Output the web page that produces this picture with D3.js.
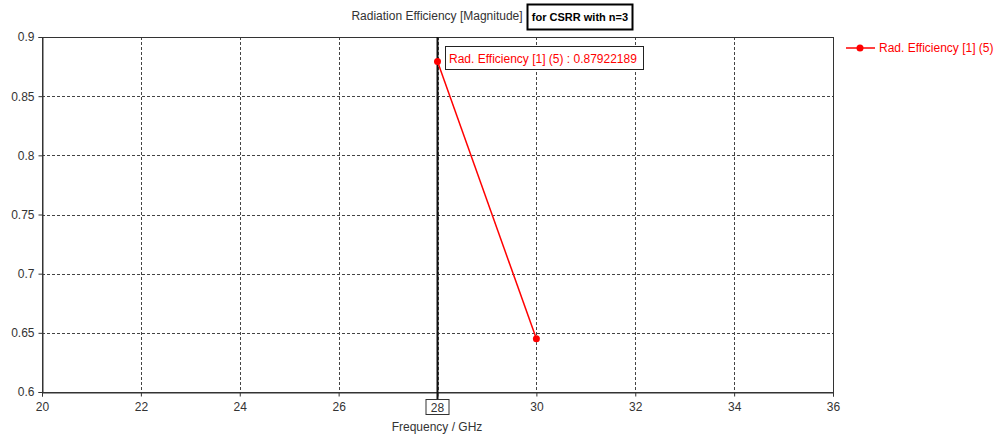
<!DOCTYPE html>
<html>
<head>
<meta charset="utf-8">
<script src="https://cdn.jsdelivr.net/npm/d3@7"></script>
<style>
  body { margin: 0; background: #fff; }
  svg { display: block; font-family: "Liberation Sans", Arial, sans-serif; }
</style>
</head>
<body>
<svg id="chart" width="1001" height="439"></svg>
<script>
// Radiation efficiency samples (frequency in GHz, efficiency magnitude)
const frequencies = [28, 30];
const efficiency = [0.87922189, 0.6449];
const xTicks = [20, 22, 24, 26, 28, 30, 32, 34, 36];
const yTicks = [0.6, 0.65, 0.7, 0.75, 0.8, 0.85, 0.9];
const seriesName = "Rad. Efficiency [1] (5)";
const markerFreq = 28;

const svg = d3.select("#chart");
const plotL = 42, plotR = 833, plotT = 37, plotB = 392;
const x = d3.scaleLinear().domain([20, 36]).range([plotL, plotR]);
const y = d3.scaleLinear().domain([0.6, 0.9]).range([plotB, plotT]);
const red = "#ff0000";
const fs = "12px";

// dashed grid
const grid = svg.append("g");
grid.selectAll(".gx").data(xTicks.slice(1, -1)).join("line")
  .attr("x1", d => Math.round(x(d)) + 0.5).attr("x2", d => Math.round(x(d)) + 0.5)
  .attr("y1", plotT).attr("y2", plotB)
  .attr("stroke", "#444").attr("stroke-dasharray", "3,2").attr("stroke-width", 1);
grid.selectAll(".gy").data(yTicks.slice(1, -1)).join("line")
  .attr("y1", d => Math.round(y(d)) + 0.5).attr("y2", d => Math.round(y(d)) + 0.5)
  .attr("x1", plotL).attr("x2", plotR)
  .attr("stroke", "#444").attr("stroke-dasharray", "3,2").attr("stroke-width", 1);

// axes
const xAxis = svg.append("g").attr("transform", `translate(0,${plotB + 0.5})`)
  .call(d3.axisBottom(x).tickValues(xTicks).tickSize(4).tickPadding(6).tickFormat(d3.format("d")));
const yAxis = svg.append("g").attr("transform", `translate(${plotL + 0.5},0)`)
  .call(d3.axisLeft(y).tickValues(yTicks).tickSize(4).tickPadding(4).tickFormat(d => String(+d.toFixed(2))));
[xAxis, yAxis].forEach(a => {
  a.selectAll("text").attr("font-size", fs).attr("fill", "#333").attr("font-family", "Liberation Sans, Arial, sans-serif");
  a.selectAll("line, path").attr("stroke", "#333");
});

// frame
svg.append("rect").attr("x", plotL + 0.5).attr("y", plotT + 0.5)
  .attr("width", plotR - plotL).attr("height", plotB - plotT)
  .attr("fill", "none").attr("stroke", "#333");

// marker line at 28 GHz
const mx = x(markerFreq);
svg.append("line").attr("x1", mx).attr("x2", mx)
  .attr("y1", plotT).attr("y2", plotB + 7).attr("stroke", "#111").attr("stroke-width", 2);

// marker value box on x axis
svg.append("rect").attr("x", mx - 11.5).attr("y", plotB + 7.5).attr("width", 23).attr("height", 15)
  .attr("fill", "#fff").attr("stroke", "#333");
svg.append("text").attr("x", mx).attr("y", plotB + 19.5).attr("text-anchor", "middle")
  .attr("font-size", fs).attr("fill", "#333").text(markerFreq);

// series
const pts = frequencies.map((f, i) => [f, efficiency[i]]);
svg.append("path").datum(pts)
  .attr("d", d3.line().x(d => x(d[0])).y(d => y(d[1])))
  .attr("fill", "none").attr("stroke", red).attr("stroke-width", 1.5);
svg.selectAll(".pt").data(pts).join("circle")
  .attr("cx", d => x(d[0])).attr("cy", d => y(d[1])).attr("r", 3.5).attr("fill", red);

// marker annotation
const ann = svg.append("g");
const annText = `${seriesName} : ${efficiency[0]}`;
ann.append("rect").attr("x", 445.5).attr("y", 46.5).attr("width", 198).attr("height", 23)
  .attr("fill", "#fff").attr("stroke", "#222");
ann.append("text").attr("x", 449).attr("y", 62.5).attr("font-size", fs).attr("fill", red).text(annText);

// titles
svg.append("text").attr("x", 437).attr("y", 20).attr("text-anchor", "middle")
  .attr("font-size", fs).attr("fill", "#333").text("Radiation Efficiency [Magnitude]");
svg.append("rect").attr("x", 527.5).attr("y", 4.5).attr("width", 105).attr("height", 25)
  .attr("fill", "#fff").attr("stroke", "#000").attr("stroke-width", 2);
svg.append("text").attr("x", 580).attr("y", 21).attr("text-anchor", "middle")
  .attr("font-size", "11px").attr("font-weight", "bold").attr("fill", "#000").text("for  CSRR with n=3");
svg.append("text").attr("x", 437).attr("y", 431).attr("text-anchor", "middle")
  .attr("font-size", fs).attr("fill", "#333").text("Frequency / GHz");

// legend
const lg = svg.append("g");
lg.append("line").attr("x1", 846).attr("x2", 875).attr("y1", 48).attr("y2", 48)
  .attr("stroke", red).attr("stroke-width", 1.5);
lg.append("circle").attr("cx", 860).attr("cy", 48).attr("r", 3.5).attr("fill", red);
lg.append("text").attr("x", 879).attr("y", 52).attr("font-size", fs).attr("fill", red).text(seriesName);
</script>
</body>
</html>
